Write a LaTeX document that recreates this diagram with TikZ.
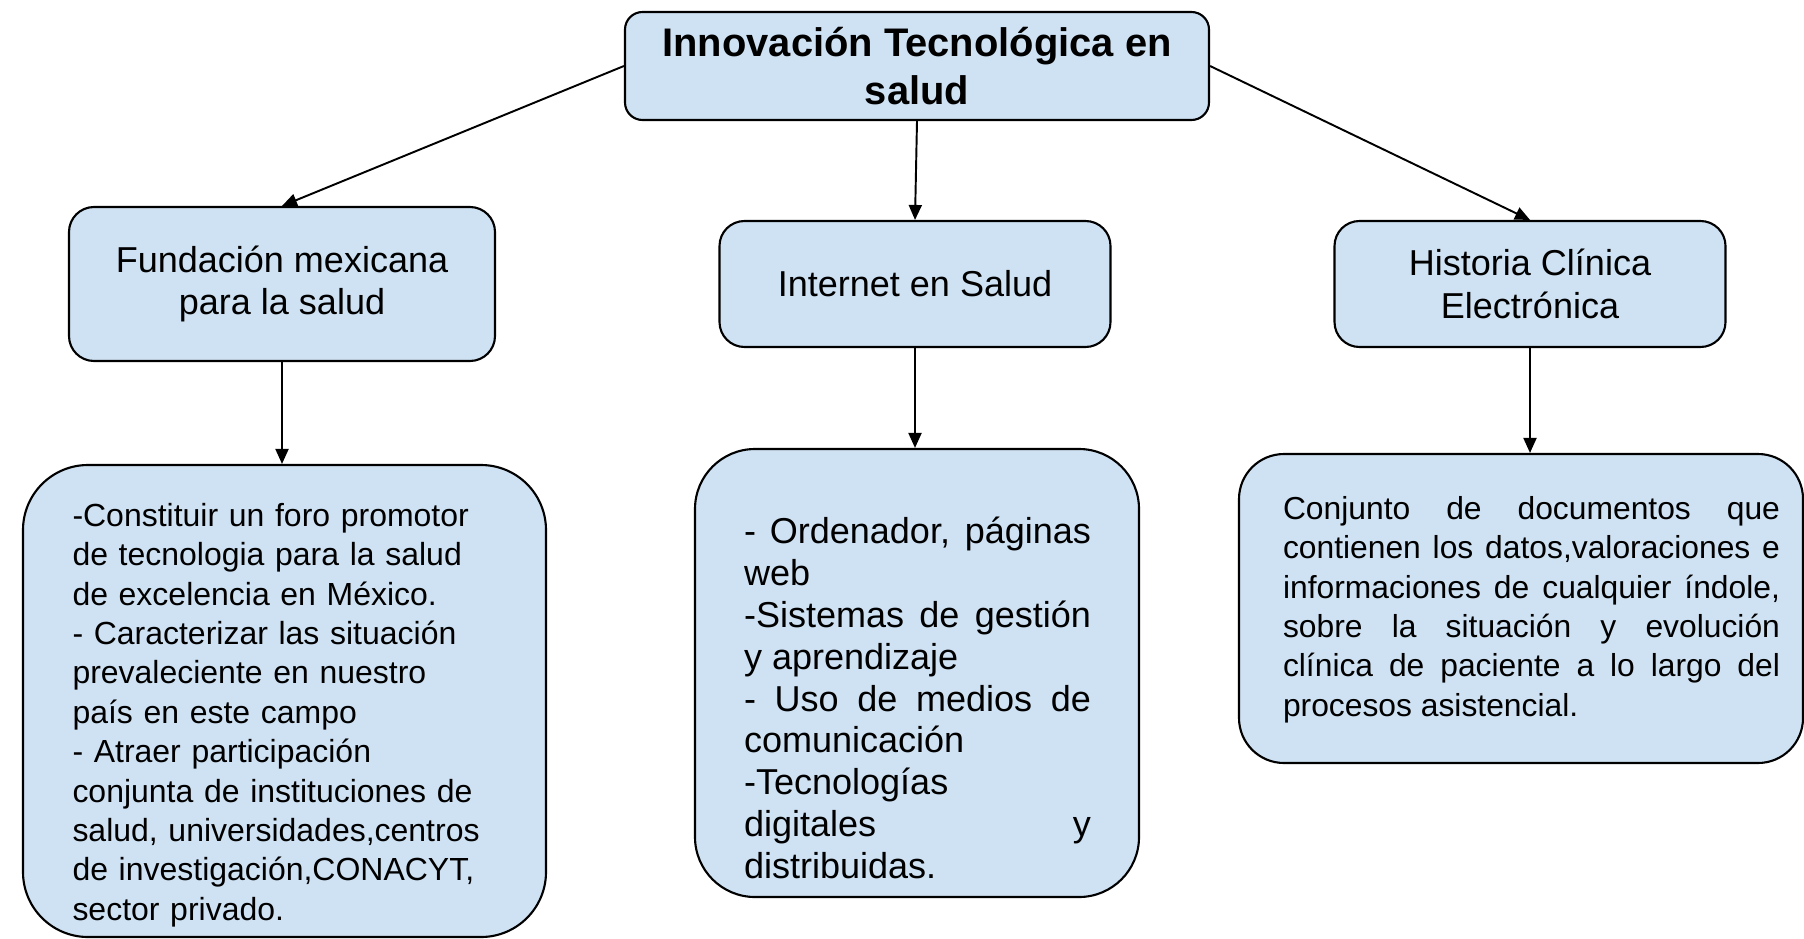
\documentclass[tikz,border=0pt]{standalone}
\usepackage{fontspec}
\setmainfont{Liberation Sans}
\usetikzlibrary{positioning}
\usetikzlibrary{arrows.meta}
\usepackage{xcolor}
\definecolor{boxblue}{RGB}{207,226,243}

\begin{document}
\begin{tikzpicture}[
box/.style={draw=black, fill=boxblue, line width=1.2pt},
link/.style={black, line width=1.1pt, -{Triangle[length=0.3cm,width=0.26cm]}},
txt/.style={inner sep=0pt}
]
\useasboundingbox (0,0) rectangle (36.08,-18.76);

% boxes
{
\node[box] (top) at (18.34,-1.32) [rounded corners=0.35cm, minimum width=11.68cm, minimum height=2.16cm, align=center, font=\bfseries\fontsize{22.7}{27.5}\selectfont] {Innovación Tecnológica en\\ salud};

\node[box] (fund) at (5.64,-5.68) [rounded corners=0.5cm, minimum width=8.52cm, minimum height=3.08cm, align=center, font=\fontsize{20.5}{24.2}\selectfont] {Fundación mexicana\\ para la salud};
\node[box] (net) at (18.3,-5.68) [rounded corners=0.5cm, minimum width=7.82cm, minimum height=2.52cm, align=center, font=\fontsize{20.5}{24.2}\selectfont] {Internet en Salud};
\node[box] (hist) at (30.6,-5.68) [rounded corners=0.5cm, minimum width=7.82cm, minimum height=2.52cm, align=center, font=\fontsize{20.5}{24.2}\selectfont] {Historia Clínica\\ Electrónica};

\node[box] (fundbox) at (5.69,-14.02) [rounded corners=1.3cm, minimum width=10.46cm, minimum height=9.44cm] {};
\node[box] (netbox) at (18.34,-13.46) [rounded corners=1.2cm, minimum width=8.88cm, minimum height=8.96cm] {};
\node[box] (histbox) at (30.42,-12.17) [rounded corners=0.9cm, minimum width=11.28cm, minimum height=6.18cm] {};
}

% texts
{
\node[txt] (fundtxt) at (5.70,-14.3) [text width=8.5cm, align=left, font=\fontsize{18.2}{22.4}\selectfont]
{-Constituir un foro promotor\\ de tecnologia para la salud\\ de excelencia en México.\\ - Caracterizar las situación\\ prevaleciente en nuestro\\ país en este campo\\ - Atraer participación\\ conjunta de instituciones de\\ salud, universidades,centros\\ de investigación,CONACYT,\\ sector privado.};

\node[txt] (nettxt) at (18.35,-13.96) [text width=6.94cm, align=justify, font=\fontsize{20.5}{23.8}\selectfont]
{- Ordenador, páginas\linebreak web\\ -Sistemas de gestión\linebreak y aprendizaje\\ - Uso de medios de\linebreak comunicación\\ -Tecnologías\\ digitales\hfill y\\ distribuidas.};

\node[txt] (histtxt) at (30.63,-12.19) [text width=9.94cm, align=justify, font=\fontsize{18.1}{22.4}\selectfont]
{Conjunto de documentos que\linebreak contienen los datos,valoraciones e\linebreak informaciones de cualquier índole,\linebreak sobre la situación y evolución\linebreak clínica de paciente a lo largo del\linebreak procesos asistencial.};
}

% arrows
{
\draw[link] (top.west) -- (fund.north);
\draw[link] (top.south) -- (net.north);
\draw[link] (top.east) -- (hist.north);

\draw[link] (fund.south) -- (fund.south |- fundbox.north);
\draw[link] (net.south) -- (net.south |- netbox.north);
\draw[link] (hist.south) -- (hist.south |- histbox.north);
}
\end{tikzpicture}
\end{document}
